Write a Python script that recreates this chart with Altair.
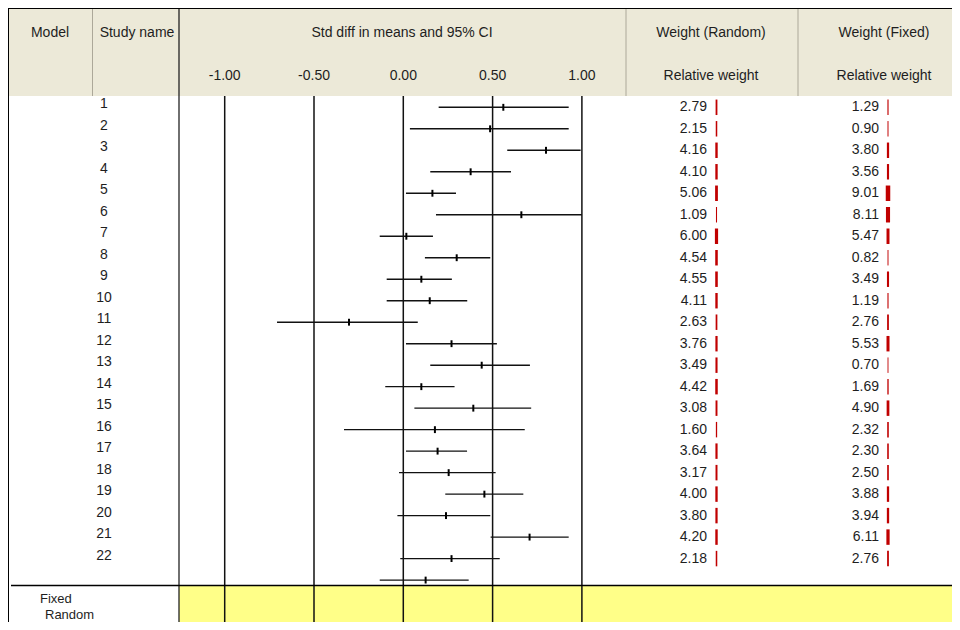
import altair as alt
import pandas as pd

# ---------------- data ----------------
study_names = [str(i) for i in range(1, 23)]
smd = [0.560, 0.486, 0.799, 0.377, 0.163, 0.661, 0.017, 0.299, 0.101, 0.148, -0.304,
       0.270, 0.439, 0.101, 0.392, 0.177, 0.192, 0.254, 0.454, 0.239, 0.707, 0.270]
ci_lower = [0.198, 0.037, 0.582, 0.151, 0.015, 0.183, -0.132, 0.121, -0.093, -0.093, -0.707,
            0.015, 0.151, -0.101, 0.062, -0.332, 0.015, -0.024, 0.235, -0.033, 0.489, -0.017]
ci_upper = [0.926, 0.926, 0.993, 0.603, 0.295, 1.000, 0.166, 0.487, 0.272, 0.358, 0.081,
            0.524, 0.709, 0.287, 0.716, 0.680, 0.357, 0.517, 0.672, 0.487, 0.926, 0.540]
weight_random = [2.79, 2.15, 4.16, 4.10, 5.06, 1.09, 6.00, 4.54, 4.55, 4.11, 2.63,
                 3.76, 3.49, 4.42, 3.08, 1.60, 3.64, 3.17, 4.00, 3.80, 4.20, 2.18]
weight_fixed = [1.29, 0.90, 3.80, 3.56, 9.01, 8.11, 5.47, 0.82, 3.49, 1.19, 2.76,
                5.53, 0.70, 1.69, 4.90, 2.32, 2.30, 2.50, 3.88, 3.94, 6.11, 2.76]
# unlabeled interval drawn just above the summary block
extra_smd = [0.125]
extra_lower = [-0.132]
extra_upper = [0.366]

tick_values = [-1.0, -0.5, 0.0, 0.5, 1.0]
tick_labels = ["-1.00", "-0.50", "0.00", "0.50", "1.00"]
summary_labels = ["Fixed", "Random"]

# ---------------- layout ----------------
W, H = 944, 614
ZERO_PX, UNIT_PX = 395.3, 178.6
ROW1_PX, ROW_STEP = 99.3, 21.49
HEADER_BOTTOM = 88
SEP_Y = 577.5
FONT = "Liberation Sans"
TXT = "#1e1e1e"

xscale = alt.Scale(domain=[-ZERO_PX / UNIT_PX, (W - ZERO_PX) / UNIT_PX], nice=False, zero=False)
yscale = alt.Scale(domain=[1 - ROW1_PX / ROW_STEP, 1 + (H - ROW1_PX) / ROW_STEP],
                   reverse=True, nice=False, zero=False)

n = len(study_names)
df = pd.DataFrame({
    "row": list(range(1, n + 1)),
    "name": study_names,
    "smd": smd,
    "lo": ci_lower,
    "hi": ci_upper,
    "wr": weight_random,
    "wf": weight_fixed,
})
df["wr_txt"] = df["wr"].map(lambda v: f"{v:.2f}")
df["wf_txt"] = df["wf"].map(lambda v: f"{v:.2f}")
df["bar_top"] = df["row"] - 0.36
df["bar_bot"] = df["row"] + 0.36

ci_df = pd.concat([
    df[["row", "smd", "lo", "hi"]],
    pd.DataFrame({"row": [n + 1], "smd": extra_smd, "lo": extra_lower, "hi": extra_upper}),
], ignore_index=True)
ci_df["m_top"] = ci_df["row"] - 0.16
ci_df["m_bot"] = ci_df["row"] + 0.16

ticks_df = pd.DataFrame({"v": tick_values, "label": tick_labels})
one = pd.DataFrame({"a": [0]})

X = lambda f: alt.X(f, type="quantitative", scale=xscale, axis=None)
Y = lambda f: alt.Y(f, type="quantitative", scale=yscale, axis=None)

pix = alt.Scale(domain=[0, W], range=[0, W], nice=False, zero=False)
piy = alt.Scale(domain=[0, H], range=[0, H], nice=False, zero=False)

# ---------------- background / frame ----------------
header_bg = alt.Chart(one).mark_rect(color="#ECE9D8").encode(
    x=alt.value(0), x2=alt.value(W), y=alt.value(0), y2=alt.value(HEADER_BOTTOM))
yellow_bg = alt.Chart(one).mark_rect(color="#FFFF88").encode(
    x=alt.value(171), x2=alt.value(W), y=alt.value(SEP_Y), y2=alt.value(H))
top_border = alt.Chart(one).mark_rule(color="#000000", strokeWidth=1).encode(
    x=alt.value(0), x2=alt.value(W), y=alt.value(0.5))
left_border = alt.Chart(one).mark_rule(color="#000000", strokeWidth=1).encode(
    x=alt.value(0.5), y=alt.value(0), y2=alt.value(H))
sep_line = alt.Chart(one).mark_rule(color="#000000", strokeWidth=1.5).encode(
    x=alt.value(3), x2=alt.value(W), y=alt.value(SEP_Y))
div_df = pd.DataFrame({"px": [84.5, 618, 790]})
header_divs = alt.Chart(div_df).mark_rule(color="#ACA899", strokeWidth=1).encode(
    x=alt.X("px:Q", scale=pix, axis=None),
    y=alt.value(1), y2=alt.value(HEADER_BOTTOM))
name_div = alt.Chart(one).mark_rule(color="#222222", strokeWidth=1.3).encode(
    x=alt.value(171), y=alt.value(0), y2=alt.value(H))

grid = alt.Chart(ticks_df).mark_rule(color="#111111", strokeWidth=1.5).encode(
    x=X("v"), y=alt.value(HEADER_BOTTOM), y2=alt.value(H))

# ---------------- header texts ----------------
hdr = pd.DataFrame({
    "t": ["Model", "Study name", "Std diff in means and 95% CI", "Weight (Random)", "Weight (Fixed)",
          "Relative weight", "Relative weight"],
    "px": [42, 129, 394, 703, 876, 703, 876],
    "py": [25, 25, 25, 25, 25, 68, 68],
})
header_text = alt.Chart(hdr).mark_text(font=FONT, fontSize=14, color=TXT, align="center",
                                       baseline="middle").encode(
    x=alt.X("px:Q", scale=pix, axis=None), y=alt.Y("py:Q", scale=piy, axis=None), text="t:N")
tick_text = alt.Chart(ticks_df).mark_text(font=FONT, fontSize=14, color=TXT, align="center",
                                          baseline="middle").encode(
    x=X("v"), y=alt.value(68), text="label:N")

# ---------------- forest rows ----------------
ci_lines = alt.Chart(ci_df).mark_rule(color="#111111", strokeWidth=1.4).encode(
    x=X("lo"), x2="hi", y=Y("row"))
markers = alt.Chart(ci_df).mark_rule(color="#000000", strokeWidth=2).encode(
    x=X("smd"), y=Y("m_top"), y2="m_bot")

names = alt.Chart(df).mark_text(font=FONT, fontSize=14, color=TXT, align="center",
                                baseline="middle", dy=-3).encode(
    x=alt.value(96), y=Y("row"), text="name:N")

wr_text = alt.Chart(df).mark_text(font=FONT, fontSize=14, color=TXT, align="right",
                                  baseline="middle").encode(
    x=alt.value(699), y=Y("row"), text="wr_txt:N")
wf_text = alt.Chart(df).mark_text(font=FONT, fontSize=14, color=TXT, align="right",
                                  baseline="middle").encode(
    x=alt.value(871), y=Y("row"), text="wf_txt:N")
sw = alt.Scale(domain=[0, 9], range=[0.6, 4.5], zero=False)
wr_bars = alt.Chart(df).mark_rule(color="#C00000").encode(
    x=alt.value(708.5), y=Y("bar_top"), y2="bar_bot",
    strokeWidth=alt.StrokeWidth("wr:Q", scale=sw, legend=None))
wf_bars = alt.Chart(df).mark_rule(color="#C00000").encode(
    x=alt.value(880), y=Y("bar_top"), y2="bar_bot",
    strokeWidth=alt.StrokeWidth("wf:Q", scale=sw, legend=None))

summ = pd.DataFrame({"t": summary_labels, "px": [32, 37], "py": [591, 607]})
summary_text = alt.Chart(summ).mark_text(font=FONT, fontSize=13, color=TXT, align="left",
                                         baseline="middle").encode(
    x=alt.X("px:Q", scale=pix, axis=None), y=alt.Y("py:Q", scale=piy, axis=None), text="t:N")

chart = alt.layer(
    header_bg, yellow_bg, grid, name_div, header_divs, top_border, left_border, sep_line,
    header_text, tick_text, ci_lines, markers, names, wr_text, wf_text, wr_bars, wf_bars,
    summary_text,
).resolve_scale(x="independent", y="independent", strokeWidth="shared").properties(
    width=W, height=H, padding=0,
    autosize=alt.AutoSizeParams(type="none"),
    background="white",
).configure_view(stroke=None)

chart.save("out.html", embed_options={"renderer": "svg", "actions": False})
